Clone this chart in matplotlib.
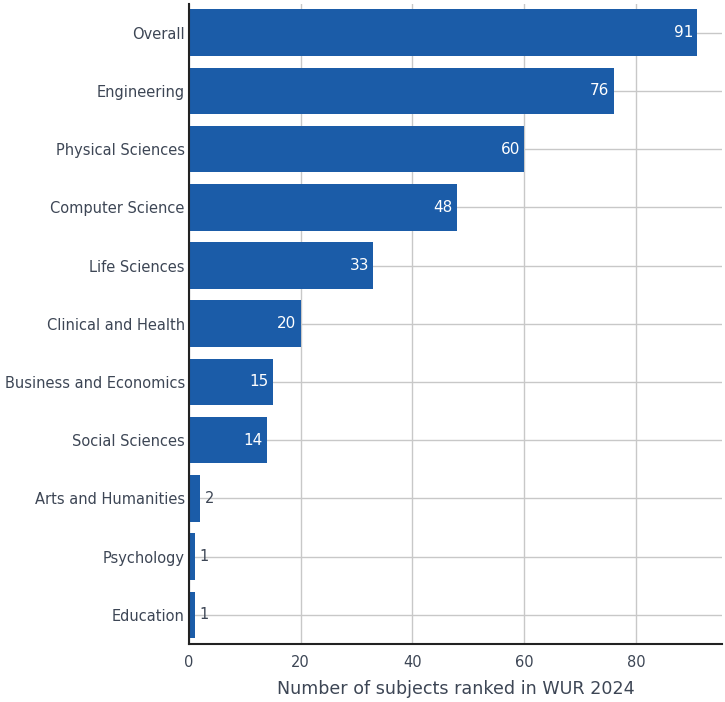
import matplotlib.pyplot as plt

# subjects ranked, top to bottom
subjects = ["Overall", "Engineering", "Physical Sciences", "Computer Science",
            "Life Sciences", "Clinical and Health", "Business and Economics",
            "Social Sciences", "Arts and Humanities", "Psychology", "Education"]
counts = [91, 76, 60, 48, 33, 20, 15, 14, 2, 1, 1]
xticks = [0, 20, 40, 60, 80]

text_col = "#3d4655"
bar_col = "#1b5ca8"

fig = plt.figure(figsize=(7.25, 7.02), dpi=100)
ax = fig.add_axes([189 / 725, 1 - 644 / 702, (722 - 189) / 725, (644 - 3.5) / 702])

ypos = list(range(len(subjects)))[::-1]
ax.barh(ypos, counts, height=0.8, color=bar_col, zorder=2)

for y, v in zip(ypos, counts):
    if v >= 10:
        ax.text(v - 0.8, y, str(v), ha="right", va="center", color="white",
                fontsize=11, zorder=3)
    else:
        ax.text(v + 0.8, y, str(v), ha="left", va="center", color=text_col,
                fontsize=10.5, zorder=3)

ax.set_xlim(0, 95.4)
ax.set_ylim(-0.5, len(subjects) - 0.5)
ax.set_yticks(ypos)
ax.set_yticklabels(subjects)
ax.set_xticks(xticks)
ax.tick_params(length=0, labelsize=10.5, labelcolor=text_col)
ax.tick_params(axis="y", pad=3)
ax.tick_params(axis="x", pad=8)
ax.grid(True, color="#c8c8c8", linewidth=1, zorder=0)
ax.set_axisbelow(True)

for s in ["top", "right"]:
    ax.spines[s].set_visible(False)
for s in ["left", "bottom"]:
    ax.spines[s].set_color("#222222")
    ax.spines[s].set_linewidth(1.5)

ax.set_xlabel("Number of subjects ranked in WUR 2024", fontsize=12.6,
              color=text_col, labelpad=7)

fig.savefig("out.png", dpi=100)
